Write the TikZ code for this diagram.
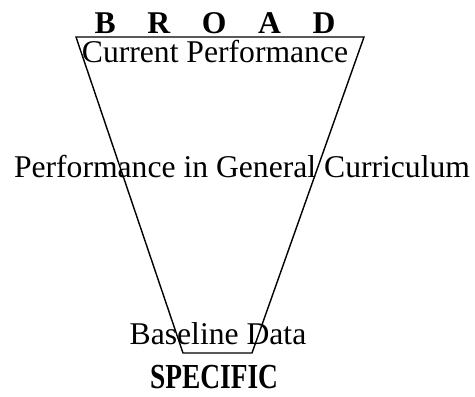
\documentclass[tikz,border=0pt]{standalone}
\usepackage{fontspec}
\setmainfont{Liberation Serif}
\usetikzlibrary{positioning}

\begin{document}
\begin{tikzpicture}[x=0.025cm, y=-0.025cm,
 lbl/.style={anchor=base, inner sep=0pt, font=\fontsize{22.5}{27}\selectfont},
 hdr/.style={anchor=base, inner sep=0pt, font=\fontsize{22.5}{27}\selectfont\bfseries},
 funnel/.style={line width=1pt, line join=miter},
]
\useasboundingbox (0,0) rectangle (475,396);
\coordinate (tl) at (76,37);
\coordinate (tr) at (364,37);
\coordinate (br) at (252,353);
\coordinate (bl) at (183,353);
\draw[funnel] (tl) -- (tr) -- (br) -- (bl) -- cycle;
\node[hdr] (broad) at (215,33) {B\quad R\quad O\quad A\quad D};
\node[lbl] (current) at (215,62) {Current Performance};
\node[lbl] (general) at (242,177) {Performance in General Curriculum};
\node[lbl] (baseline) at (218,344) {Baseline Data};
\node[hdr, font=\fontsize{25}{30}\selectfont\bfseries] (specific) at (214,388) {\scalebox{0.78}[1]{SPECIFIC}};
\end{tikzpicture}
\end{document}
